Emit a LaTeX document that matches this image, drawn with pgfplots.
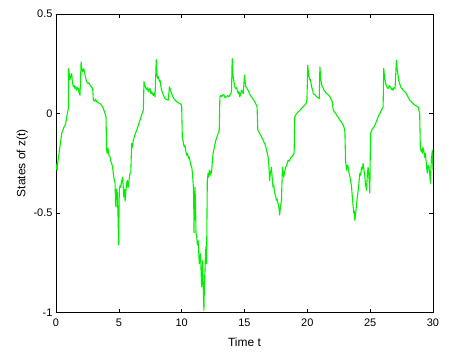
\documentclass[border=0pt]{standalone}
\usepackage{pgfplots}
\pgfplotsset{compat=1.18}
\usepackage{fontspec}
\setmainfont{Liberation Sans}
\begin{document}
\begin{tikzpicture}
\begin{axis}[
  scale only axis, width=377bp, height=298.5bp,
  xmin=0, xmax=30, ymin=-1, ymax=0.5,
  xtick={0,5,...,30}, ytick={-1,-0.5,0,0.5},
  yticklabels={-1,-0.5,0,0.5},
  tick align=inside, major tick length=4bp,
  axis line style={black, line width=0.6pt},
  tick style={black, line width=0.5pt},
  /pgf/number format/assume math mode=true,
  ticklabel style={font=\fontsize{11}{13}\selectfont},
  xticklabel style={yshift=-3bp},
  label style={font=\fontsize{12}{14}\selectfont},
  xlabel={Time t}, ylabel={States of z(t)},
  xlabel style={yshift=-4bp},
  ylabel style={yshift=-1bp},
]
\addplot[color={rgb,255:red,0;green,240;blue,0}, line width=1.1pt, line join=round] coordinates {
(0,-0.25)(0.05,-0.28)(0.1,-0.285)(0.15,-0.24)(0.24,-0.2)(0.3,-0.17)(0.35,-0.15)(0.45,-0.1)(0.55,-0.085)(0.62,-0.07)(0.72,-0.06)(0.8,-0.04)(0.9,0.0)(0.98,0.025)
(1.0,0.226)(1.05,0.2)(1.11,0.17)(1.18,0.19)(1.25,0.2)(1.3,0.16)(1.38,0.134)(1.45,0.14)(1.5,0.126)(1.57,0.135)(1.64,0.117)(1.7,0.13)(1.78,0.126)(1.85,0.1)(1.91,0.092)
(2.0,0.26)(2.05,0.22)(2.12,0.21)(2.18,0.225)(2.25,0.218)(2.32,0.19)(2.38,0.175)(2.44,0.16)(2.55,0.15)(2.62,0.155)(2.7,0.143)(2.8,0.135)(2.92,0.126)
(2.97,0.067)(3.1,0.062)(3.15,0.072)(3.24,0.059)(3.35,0.055)(3.5,0.05)(3.65,0.04)(3.77,0.025)(3.9,0.0)(3.98,-0.017)
(4.03,-0.185)(4.08,-0.2)(4.12,-0.175)(4.16,-0.185)(4.22,-0.21)(4.3,-0.218)(4.36,-0.24)(4.43,-0.25)(4.5,-0.27)(4.56,-0.3)(4.63,-0.33)(4.7,-0.35)(4.74,-0.45)(4.77,-0.47)(4.82,-0.38)(4.88,-0.4)(4.93,-0.5)(4.99,-0.66)(5.02,-0.45)(5.04,-0.386)(5.1,-0.36)(5.15,-0.37)(5.22,-0.34)(5.3,-0.32)(5.35,-0.37)(5.4,-0.42)(5.45,-0.38)(5.5,-0.44)(5.57,-0.386)(5.62,-0.35)(5.68,-0.336)(5.72,-0.37)(5.76,-0.37)(5.82,-0.33)(5.89,-0.3)(5.95,-0.3)
(6.02,-0.15)(6.08,-0.17)(6.15,-0.134)(6.25,-0.115)(6.32,-0.1)(6.42,-0.084)(6.55,-0.06)(6.68,-0.034)(6.8,-0.01)(6.95,0.017)
(7.0,0.16)(7.08,0.14)(7.16,0.126)(7.22,0.12)(7.28,0.13)(7.35,0.109)(7.42,0.12)(7.48,0.126)(7.55,0.1)(7.6,0.11)(7.67,0.1)(7.75,0.09)(7.82,0.105)(7.88,0.084)
(7.98,0.27)(8.03,0.2)(8.09,0.176)(8.15,0.185)(8.22,0.16)(8.28,0.168)(8.34,0.14)(8.4,0.117)(8.5,0.1)(8.6,0.085)(8.67,0.075)(8.8,0.07)(8.94,0.067)
(9.02,0.134)(9.08,0.125)(9.14,0.11)(9.2,0.1)(9.3,0.085)(9.38,0.075)(9.47,0.067)(9.6,0.06)(9.73,0.054)(9.85,0.05)(10.0,0.042)
(10.05,-0.117)(10.12,-0.14)(10.2,-0.168)(10.26,-0.16)(10.33,-0.19)(10.4,-0.21)(10.47,-0.2)(10.53,-0.225)(10.6,-0.218)(10.67,-0.24)(10.74,-0.26)(10.8,-0.27)(10.86,-0.3)(10.93,-0.37)(10.96,-0.436)(10.98,-0.6)(11.02,-0.45)(11.06,-0.37)(11.1,-0.45)(11.14,-0.6)(11.2,-0.62)(11.25,-0.66)(11.32,-0.64)(11.36,-0.7)(11.4,-0.755)(11.45,-0.72)(11.5,-0.705)(11.55,-0.8)(11.59,-0.87)(11.63,-0.78)(11.67,-0.74)(11.72,-0.88)(11.77,-0.99)(11.81,-0.86)(11.85,-0.8)(11.89,-0.72)(11.93,-0.67)(11.96,-0.72)(11.98,-0.755)
(12.04,-0.336)(12.1,-0.3)(12.15,-0.32)(12.2,-0.285)(12.28,-0.31)(12.33,-0.29)(12.38,-0.3)(12.44,-0.24)(12.5,-0.2)(12.6,-0.17)(12.72,-0.134)(12.8,-0.12)(12.9,-0.1)(12.99,-0.084)
(13.04,0.084)(13.12,0.09)(13.2,0.085)(13.25,0.092)(13.35,0.095)(13.45,0.08)(13.57,0.084)(13.65,0.09)(13.75,0.085)(13.84,0.092)(13.92,0.1)(13.97,0.117)
(14.02,0.277)(14.06,0.22)(14.1,0.185)(14.16,0.16)(14.23,0.134)(14.3,0.125)(14.36,0.13)(14.42,0.117)(14.5,0.1)(14.56,0.11)(14.63,0.084)(14.7,0.1)(14.76,0.117)(14.82,0.11)(14.9,0.1)
(15.0,0.193)(15.05,0.16)(15.1,0.134)(15.18,0.13)(15.23,0.12)(15.29,0.117)(15.4,0.1)(15.48,0.09)(15.56,0.084)(15.7,0.07)(15.82,0.059)(15.92,0.045)(16.0,0.034)
(16.06,-0.084)(16.12,-0.09)(16.2,-0.1)(16.3,-0.11)(16.4,-0.125)(16.48,-0.134)(16.6,-0.15)(16.7,-0.168)(16.78,-0.19)(16.88,-0.218)(16.94,-0.26)(17.0,-0.336)(17.06,-0.3)(17.14,-0.27)(17.2,-0.32)(17.27,-0.37)(17.33,-0.36)(17.4,-0.4)(17.47,-0.41)(17.54,-0.436)(17.6,-0.43)(17.67,-0.453)(17.74,-0.47)(17.8,-0.51)(17.86,-0.47)(17.94,-0.436)
(18.02,-0.27)(18.07,-0.29)(18.12,-0.32)(18.2,-0.29)(18.28,-0.27)(18.36,-0.26)(18.47,-0.235)(18.55,-0.24)(18.65,-0.225)(18.74,-0.218)(18.85,-0.21)(18.95,-0.2)
(19.0,-0.017)(19.1,-0.005)(19.26,0.008)(19.4,0.015)(19.52,0.025)(19.65,0.033)(19.79,0.042)(19.9,0.05)(19.97,0.067)
(20.03,0.243)(20.1,0.2)(20.18,0.168)(20.25,0.17)(20.34,0.134)(20.41,0.12)(20.48,0.1)(20.6,0.095)(20.74,0.084)(20.85,0.08)(20.95,0.075)
(21.0,0.235)(21.06,0.18)(21.14,0.143)(21.22,0.135)(21.32,0.117)(21.42,0.11)(21.53,0.1)(21.65,0.095)(21.8,0.084)(21.9,0.07)(21.98,0.059)
(22.06,0.017)(22.2,0.005)(22.33,-0.008)(22.46,-0.02)(22.6,-0.034)(22.73,-0.045)(22.86,-0.059)(22.95,-0.075)(22.99,-0.092)
(23.04,-0.235)(23.08,-0.26)(23.12,-0.285)(23.18,-0.26)(23.25,-0.27)(23.32,-0.3)(23.39,-0.32)(23.45,-0.34)(23.52,-0.37)(23.58,-0.42)(23.65,-0.47)(23.7,-0.5)(23.74,-0.49)(23.78,-0.537)(23.85,-0.5)(23.92,-0.453)(23.98,-0.42)(24.05,-0.386)(24.12,-0.34)(24.18,-0.3)(24.25,-0.31)(24.31,-0.27)(24.38,-0.28)(24.44,-0.25)(24.5,-0.28)(24.58,-0.32)(24.64,-0.36)(24.71,-0.386)(24.78,-0.3)(24.84,-0.27)(24.88,-0.3)(24.92,-0.336)(24.97,-0.4)
(25.03,-0.1)(25.1,-0.09)(25.19,-0.075)(25.28,-0.07)(25.37,-0.059)(25.5,-0.04)(25.63,-0.017)(25.77,0.0)(25.9,0.017)(26.03,0.034)
(26.08,0.226)(26.15,0.18)(26.24,0.15)(26.3,0.14)(26.36,0.13)(26.43,0.126)(26.52,0.14)(26.61,0.134)(26.7,0.12)(26.76,0.125)(26.83,0.117)(26.9,0.13)(26.98,0.126)
(27.09,0.268)(27.15,0.22)(27.22,0.193)(27.28,0.165)(27.35,0.15)(27.45,0.13)(27.55,0.125)(27.62,0.117)(27.75,0.11)(27.88,0.1)(28.0,0.085)(28.15,0.067)(28.28,0.06)(28.41,0.05)(28.6,0.04)(28.81,0.034)(28.94,0.0)
(28.99,-0.168)(29.05,-0.19)(29.1,-0.18)(29.15,-0.2)(29.2,-0.17)(29.26,-0.185)(29.33,-0.22)(29.38,-0.2)(29.42,-0.218)(29.48,-0.26)(29.55,-0.3)(29.6,-0.26)(29.68,-0.27)(29.73,-0.3)(29.79,-0.35)(29.83,-0.28)(29.87,-0.235)(29.92,-0.2)(29.95,-0.185)(29.98,-0.25)(30,-0.285)
};
\end{axis}
\path ([shift={(-56bp,-41.5bp)}]current axis.south west) rectangle ([shift={(32bp,14bp)}]current axis.north east);
\end{tikzpicture}
\end{document}
